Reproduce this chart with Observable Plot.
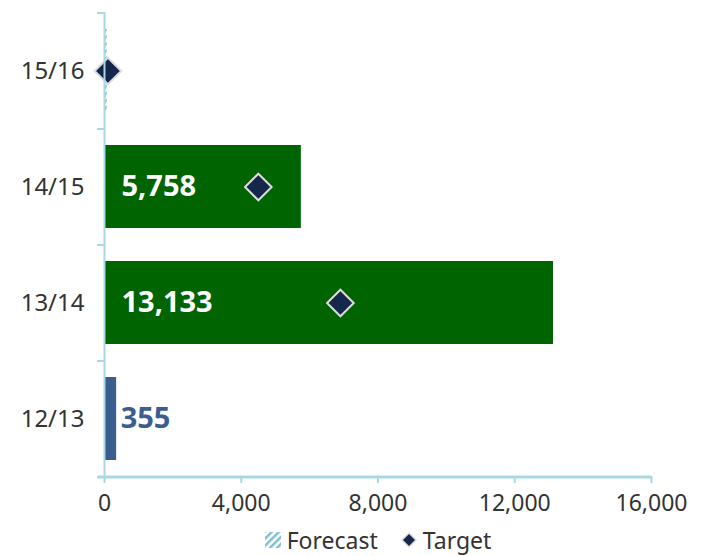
<!DOCTYPE html>
<html>
<head>
<meta charset="utf-8">
<script src="https://cdn.jsdelivr.net/npm/d3@7"></script>
<script src="https://cdn.jsdelivr.net/npm/@observablehq/plot@0.6"></script>
<style>
  html, body { margin: 0; padding: 0; background: #fff; }
  body { width: 708px; height: 556px; overflow: hidden; font-family: "Noto Sans", sans-serif; }
  #legend { display: flex; justify-content: center; align-items: center; gap: 22px;
    margin-left: 104px; width: 547px; font-size: 23px; color: #333; height: 32px; line-height: 32px; }
  #legend span.item { display: flex; align-items: center; gap: 5px; }
</style>
</head>
<body>
<div id="chart"></div>
<div id="legend">
  <span class="item"><svg width="18" height="18"><defs><pattern id="lh" width="5" height="5" patternUnits="userSpaceOnUse" patternTransform="rotate(45)"><rect width="5" height="5" fill="#fff"/><rect width="2.4" height="5" fill="#7fbdd2"/></pattern></defs><rect x="1" y="1" width="16" height="16" fill="url(#lh)"/></svg>Forecast</span>
  <span class="item"><svg width="18" height="18"><path d="M9,2 L16,9 L9,16 L2,9 Z" fill="#15284b" stroke="#ddd" stroke-width="1.5"/></svg>Target</span>
</div>
<script>
const categories = ["12/13", "13/14", "14/15", "15/16"];
const actual = [355, 13133, 5758, null];
const forecast = [null, null, null, 80];
const target = [null, 6900, 4500, 100];
const xTicks = [0, 4000, 8000, 12000, 16000];

const barColor = {"12/13": "#3a5f8f", "13/14": "#006400", "14/15": "#006400"};
const axisColor = "#a9d8e3";

const actualData = categories.map((c, i) => ({cat: c, v: actual[i]})).filter(d => d.v != null);
const forecastData = categories.map((c, i) => ({cat: c, v: forecast[i]})).filter(d => d.v != null);
const targetData = categories.map((c, i) => ({cat: c, v: target[i]})).filter(d => d.v != null);
const insideLabels = actualData.filter(d => d.v >= 2000);
const outsideLabels = actualData.filter(d => d.v < 2000);
const fmt = d3.format(",");

const yDomain = categories.slice().reverse();

const chart = Plot.plot({
  width: 708,
  height: 524,
  marginTop: 12,
  marginBottom: 48,
  marginLeft: 104,
  marginRight: 57,
  style: {fontFamily: "Noto Sans, sans-serif", fontSize: "23px", background: "#fff"},
  x: {domain: [0, 16000]},
  y: {domain: yDomain, paddingInner: 0.285, paddingOuter: 0.1425},
  marks: [
    Plot.barX(forecastData, {y: "cat", x1: 0, x2: "v", fill: "url(#hatch)", insetLeft: 1}),
    Plot.barX(actualData, {y: "cat", x1: 0, x2: "v", fill: d => barColor[d.cat], insetLeft: 1}),
    Plot.text(insideLabels, {y: "cat", x: 0, text: d => fmt(d.v), textAnchor: "start", dx: 17,
      fill: "#fff", fontSize: 29, fontWeight: "bold"}),
    Plot.text(outsideLabels, {y: "cat", x: "v", text: d => fmt(d.v), textAnchor: "start", dx: 4,
      fill: "#3a5f8f", fontSize: 29, fontWeight: "bold"}),
    Plot.dot(targetData, {y: "cat", x: "v", symbol: "diamond2", r: 12, fill: "#15284b",
      stroke: "#dcdcdc", strokeWidth: 2}),
    Plot.ruleX([0], {stroke: axisColor, strokeWidth: 2}),
    Plot.ruleY(categories, {y: d => d, x1: 0, x2: 0, dy: -58, insetLeft: -7, stroke: axisColor, strokeWidth: 2}),
    Plot.ruleY([0], {y: () => yDomain[yDomain.length - 1], x1: 0, x2: 16000, dy: 58, insetLeft: -7, stroke: axisColor, strokeWidth: 3}),
    Plot.axisX({ticks: xTicks, tickFormat: d => fmt(d), tickSize: 7, tickPadding: 11, stroke: axisColor,
      strokeWidth: 2, fill: "#333", fontSize: 23, anchor: "bottom", label: null}),
    Plot.axisY({tickSize: 0, tickPadding: 20, fill: "#333", fontSize: 24, anchor: "left", label: null})
  ]
});

const defs = d3.select(chart).insert("defs", ":first-child");
const pat = defs.append("pattern").attr("id", "hatch").attr("width", 5).attr("height", 5)
  .attr("patternUnits", "userSpaceOnUse").attr("patternTransform", "rotate(45)");
pat.append("rect").attr("width", 5).attr("height", 5).attr("fill", "#fff");
pat.append("rect").attr("width", 2.4).attr("height", 5).attr("fill", "#7fbdd2");

document.getElementById("chart").appendChild(chart);
</script>
</body>
</html>
